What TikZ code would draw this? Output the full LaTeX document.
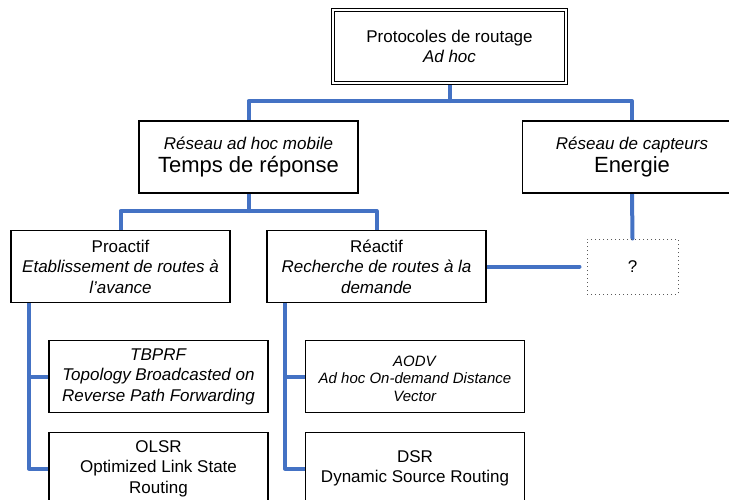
\documentclass[tikz,border=0pt]{standalone}
\usepackage{fontspec}
\setmainfont{Liberation Sans}
\usetikzlibrary{backgrounds}
\definecolor{lineblue}{RGB}{68,114,196}
\tikzset{
  box/.style={draw=black, fill=white, line width=1.1pt, minimum width=219pt, minimum height=72pt,
    align=center, inner sep=0pt, font=\fontsize{17}{20.5}\selectfont},
  link/.style={draw=lineblue, line width=4pt, line cap=round, line join=round},
  qbox/.style={draw=black!65, dash pattern=on 1pt off 3pt, line width=1pt, minimum width=91pt, minimum height=55pt,
    inner sep=0pt, font=\fontsize{17}{20.5}\selectfont},
  smalltext/.style={align=center, inner sep=0pt, font=\fontsize{15}{17.5}\selectfont}
}
\newcommand{\bigline}[1]{{\fontsize{22}{26}\selectfont #1}}
\begin{document}
\begin{tikzpicture}[x=1pt,y=-1pt]
\useasboundingbox (0,0) rectangle (729,499);
\clip (0,0) rectangle (729,499);
\node[box, double, double distance=1.6pt, line width=0.8pt, minimum width=233pt, minimum height=73pt] (top) at (449.5,46.5) {Protocoles de routage\\\textit{Ad hoc}};
\node[box] (mob) at (248.5,157) {\textit{Réseau ad hoc mobile}\\[3pt]\bigline{Temps de réponse}};
\node[box] (cap) at (632,157) {\textit{Réseau de capteurs}\\[3pt]\bigline{Energie}};
\node[box] (pro) at (120.5,266.5) {Proactif\\\textit{Etablissement de routes à}\\\textit{l’avance}};
\node[box] (rea) at (376.5,266.5) {Réactif\\\textit{Recherche de routes à la}\\\textit{demande}};
\node[qbox] (q) at (632.5,266.5) {?};
\node[box] (tb) at (158.5,376.5) {\textit{TBPRF}\\\textit{Topology Broadcasted on}\\\textit{Reverse Path Forwarding}};
\node[box] (ol) at (158.5,468.5) {OLSR\\Optimized Link State\\Routing};
\node[box] (ao) at (415,376.5) {};
\node[smalltext] (aotext) at ([yshift=-2pt]ao.center) {\textit{AODV}\\\textit{Ad hoc On-demand Distance}\\\textit{Vector}};
\node[box] (ds) at (415,468.5) {DSR\\Dynamic Source Routing};
\coordinate (j1) at (449.5,101);
\coordinate (j2) at (248.5,211);
\coordinate (lx) at (29,0);
\coordinate (rx) at (285,0);
\begin{pgfonlayer}{background}
\draw[link] (top.south) -- (j1);
\draw[link] (mob.north) |- (j1) -| (cap.north);
\draw[link] (mob.south) -- (j2);
\draw[link] (pro.north) |- (j2) -| (rea.north);
\draw[link] (cap.south) -- (q.north);
\draw[link, shorten >=7pt] (rea.east) -- (q.west);
\draw[link] (pro.south -| lx) |- (ol.west);
\draw[link] (lx |- tb.west) -- (tb.west);
\draw[link] (rea.south -| rx) |- (ds.west);
\draw[link] (rx |- ao.west) -- (ao.west);
\end{pgfonlayer}
\end{tikzpicture}
\end{document}
